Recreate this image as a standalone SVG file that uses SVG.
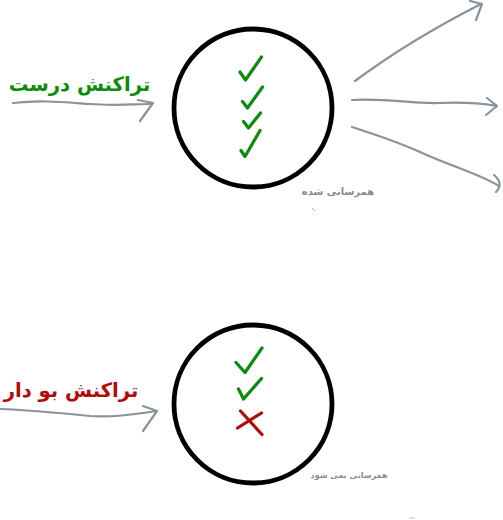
<svg xmlns="http://www.w3.org/2000/svg" width="503" height="520" viewBox="0 0 503 520">
<style>
.ring{fill:none;stroke:#000;stroke-width:4.8}
.ok{fill:none;stroke:#0b8c0b;stroke-width:3.2;stroke-linecap:round;stroke-linejoin:round}
.bad{fill:none;stroke:#b40a0a;stroke-width:3.2;stroke-linecap:round}
.arr{fill:none;stroke:#89939a;stroke-width:2.2;stroke-linecap:round;stroke-linejoin:round}
.lbl{font-family:"DejaVu Sans","Noto Sans",sans-serif;font-weight:bold;font-size:19.6px;text-anchor:middle}
.sm{font-family:"DejaVu Sans","Noto Sans",sans-serif;font-weight:bold;font-size:10px;fill:#8a8a8a;text-anchor:middle}
</style>
<rect width="503" height="520" fill="#fff"/>
<g id="connectors">
<path class="arr" d="M13,103 C40,100 60,102 90,104 C115,106 135,104 152,104"/>
<path class="arr" d="M138,100 L153,103 L140,121"/>
<path class="arr" d="M355,81 C390,55 430,30 481,4"/>
<path class="arr" d="M470,1 L482,4 L476,20"/>
<path class="arr" d="M352,100 C390,98 410,104 440,103 C465,102 485,104 497,106"/>
<path class="arr" d="M487,98 L497,106 L486,115"/>
<path class="arr" d="M352,127 C380,136 400,143 420,152 C450,166 480,174 499,186"/>
<path class="arr" d="M494,175 C500,180 502,186 496,192"/>
<path class="arr" d="M0,409 C30,410 60,413 90,416 C120,418 140,413 157,411"/>
<path class="arr" d="M143,406 L157,411 L143,431"/>
<path d="M312,208 L315,211" stroke="#b0b0b0" stroke-width="1" fill="none"/>
<path d="M409,518 L415,518" stroke="#c8c8c8" stroke-width="1" fill="none"/>
</g>
<g id="node-valid">
<circle class="ring" cx="253" cy="108" r="79"/>
<path class="ok" d="M240,72 L245.5,80 L261.5,57"/>
<path class="ok" d="M242.5,101.5 L247.5,108 L262.5,87"/>
<path class="ok" d="M243.5,121.5 L248.5,128 L260.5,113"/>
<path class="ok" d="M241,150.5 L245,156.5 L260,130.5"/>
<text class="sm" x="338" y="195">همرسانی شده</text>
</g>
<g id="node-invalid">
<circle class="ring" cx="253" cy="404" r="79"/>
<path class="ok" d="M236,362.5 L245,372.5 L262,348"/>
<path class="ok" d="M238.5,389 L243.5,399 L261.5,378.5"/>
<path class="bad" d="M240.5,411 L262,434.5 M237.5,428 L261.5,413"/>
<text class="sm" x="349" y="478" style="font-size:8px">همرسانی نمی شود</text>
</g>
<g id="label-valid">
<text class="lbl" x="79.5" y="91" fill="#0b8c0b" direction="rtl">تراکنش درست</text>
</g>
<g id="label-invalid">
<text class="lbl" x="71" y="397" fill="#b40a0a" direction="rtl">تراکنش بو دار</text>
</g>
</svg>
